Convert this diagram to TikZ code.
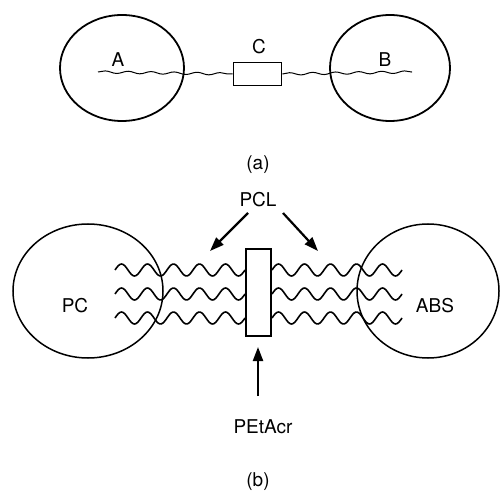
\documentclass[tikz,border=0pt]{standalone}
\usepackage{fontspec}
\setmainfont{TeX Gyre Heros}
\usetikzlibrary{shapes.geometric,arrows.meta,decorations.pathmorphing}
\begin{document}
\begin{tikzpicture}[x=1pt,y=-1pt,
  blob/.style={ellipse,draw,line width=1.8pt,inner sep=0pt},
  lbl/.style={font=\fontsize{19}{22}\selectfont,inner sep=1pt},
  thinwave/.style={line width=1pt,decorate,decoration={snake,amplitude=1.2pt,segment length=23pt}},
  chain/.style={line width=1.6pt},
  bigarrow/.style={line width=2.2pt,-{Triangle[length=14pt,width=10pt]}},
  block/.style={draw,line width=1.8pt,inner sep=0pt,fill=white}]
\useasboundingbox (0,0) rectangle (500,494);
% (a)
\node[blob,minimum width=124pt,minimum height=106pt] (ea) at (122,68) {};
\node[blob,minimum width=120pt,minimum height=106pt] (eb) at (390,68) {};
\node[block,minimum width=48pt,minimum height=23pt] (rc) at (257.5,74) {};
\coordinate (wa) at (98,72);
\coordinate (wb) at (412,72);
\draw[thinwave] (wa) -- (rc.west);
\draw[thinwave] (rc.east) -- (wb);
\node[lbl] (la) at (118,60) {A};
\node[lbl] (lb) at (385,60) {B};
\node[lbl] (lc) at (259,47) {C};
\node[lbl] (capa) at (258,165) {(a)};
% (b)
\node[blob,minimum width=150pt,minimum height=134pt,line width=1.5pt] (pc) at (88,291) {};
\node[blob,minimum width=142pt,minimum height=134pt,line width=1.5pt] (abs) at (428,291) {};
\foreach \yy in {270,294,318}{
  \draw[chain] plot[smooth,domain=115:245,samples=80] (\x,{\yy-6*sin((\x-115)/26*360)});
  \draw[chain] plot[smooth,domain=272:402,samples=80] (\x,{\yy-6*sin((\x-272)/26*360)});
}
\node[block,minimum width=25pt,minimum height=87pt] (rb) at (258.5,292.5) {};
\node[lbl] (lpc) at (75,306) {PC};
\node[lbl] (labs) at (435,306) {ABS};
\node[lbl] (pcl) at (258,200) {PCL};
\coordinate (pl) at (210,251);
\coordinate (pr) at (318,251);
\coordinate (pcla) at (248,213);
\coordinate (pclb) at (283,213);
\draw[bigarrow] (pcla) -- (pl);
\draw[bigarrow] (pclb) -- (pr);
\node[lbl] (pet) at (263,427) {PEtAcr};
\coordinate (peta) at (258,396);
\draw[bigarrow] (peta) -- (258,347);
\node[lbl] (capb) at (258,482) {(b)};
\end{tikzpicture}
\end{document}
